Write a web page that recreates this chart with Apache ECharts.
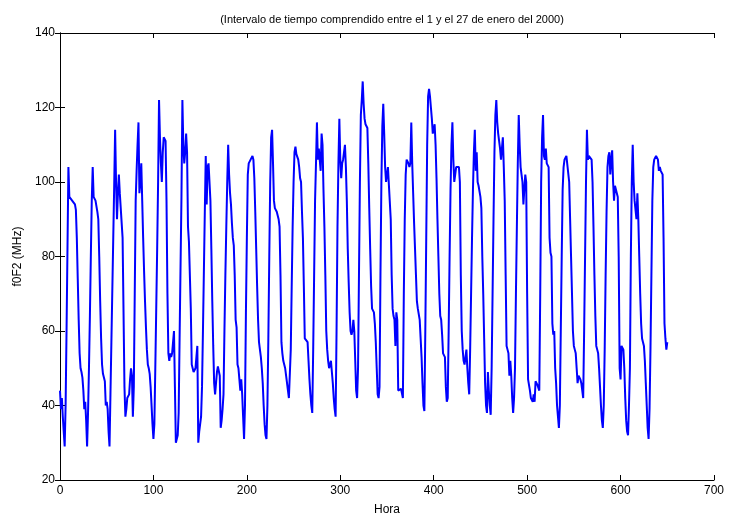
<!DOCTYPE html>
<html>
<head>
<meta charset="utf-8">
<script src="https://cdn.jsdelivr.net/npm/echarts@6/dist/echarts.min.js"></script>
<style>html,body{margin:0;padding:0;background:#fff}#c{width:730px;height:521px}</style>
</head>
<body>
<div id="c"></div>
<script>
var titleText = '(Intervalo de tiempo comprendido entre el 1 y el 27 de enero del 2000)';
var xName = 'Hora';
var yName = 'f0F2 (MHz)';
var xTicks = [0, 100, 200, 300, 400, 500, 600, 700];
var yTicks = [20, 40, 60, 80, 100, 120, 140];

// hourly f0F2 values (MHz), hour 0 onward
var f0F2 = [
44,39,42,37,33,29,40,60,82,104,96,95.5,95.5,95,95,94.5,94,92.5,85,74,63,54,50,49,
47.5,44,39,41,36,29,38,50,64,80,95,104,96,95.5,95,94.5,92,90,80,68,58,51,48.5,47.5,
46.5,40,41,39,33,29,43,57,71,85,99,114,100,90,97,102,97,97.5,97,85,65,45,37,39,
42,42.5,43,47,50,48,37,45,70,95,103,110,116,97,100,105,95,85,76,68,61,55,51,50,
48.5,45,40,35,31,35,50,66,82,100,122,112,105,100,108,112,112,111,95,70,54,52,54,53,
54,54,60,45,30,31,32,38,58,77,96,122,110,105,108,113,108,88,84,84,66,51,50,49,
49,50,53,56,30,33,35,37,45,60,76,92,107,94,104,105,105,95,82,68,56,46,43,46,
49,50.5,50.5,48,34,36,39,43,60,75,88,100,110,102,97,94,89,85,83,75,63,61,51,50,
47,44,47,43,37,31,40,65,85,102,105,105.5,106,106.5,107,106,101,92,82,72,63,57,55,53,
50,46,40,35,32,31,40,58,80,100,112,114,105,95,93,93,92,91,90,88,75,57,54,52,
51,50,48,46,44,42,42,55,72,88,100,108,109.5,107.5,107,106,104,101,100,92,85,72,58,58,
58,57,52,47,43,40,38,55,75,95,105,116,106,109,106,103,113,110,98,88,75,60,55,52,
50,51,52,49,46,42,39,37,60,88,105,117,106,101,105,106,108,110,104,95,82,73,65,60,
59,60,63,60,52,44,42,50,75,100,118,122,127,121,117,115.5,115,114.5,105,93,82,72,66,65.5,
65,62,57,50,43,42,45,75,100,115,121,113,104,100,102,104,104,104,90,75,66,64,63,56,
65,63,44,44,44.5,44.5,44,42,70,90,102,106,105.5,105,104,105,116,105,97,89,82,75,68,66,
65.5,63,58,53,46,40,38.5,60,85,110,123,125,123,120,117,113,114,115.5,110,101,90,80,70,64,
63,59,54,54,53,45,41,42,60,80,98,110,116,106,100,102,104,104.5,104.5,104,100,75,60,55,
52,51,53,55,50,46,43,55,70,85,98,108,114,103,108,100,99,99,96,93,80,70,58,46,
40,38,49,44,40,37.5,50,70,90,108,118,122,116,113,112.5,109,106,109,112,104,95,75,56,55,
54,48,52,48,42,38,42,50,70,88,105,118,110,104,102,100,94,94,102,100,70,47,46.5,44,
42,41.5,41,43,41,46.5,46,45.5,45,44,70,100,112,118,107,106,109,105,105,104,85,81,80,62,
59,60,50,46,40,37,34,40,60,80,98,104,106,106.5,107,107,107,100,90,80,70,60,56,55,
54,50,46,48,48,47,46,44,42,60,80,100,114,106,107,107,107,106,100,88,75,64,56,55,
54,50,45,40,36,34,40,55,75,92,104,107,108,102,106,108.5,100,95,99,98,97,96,80,50,
47,56,56,55,50,42,36,33,32,40,50,80,100,110,100,95,94.5,90,97,90,80,70,62,58,
57,56,52,46,40,34,31,39,55,75,95,104,106,106.5,107,107,106,103,104,103,103,102,85,62,
58,55,57
];

var font = "'Liberation Sans', Arial, Helvetica, sans-serif";
var chart = echarts.init(document.getElementById('c'), null, {renderer: 'canvas'});
var lineStyle = {color: '#000', width: 1};
chart.setOption({
  animation: false,
  backgroundColor: '#fff',
  textStyle: {fontFamily: font},
  title: {
    text: titleText,
    left: 387, textAlign: 'center', top: 9,
    textStyle: {fontFamily: font, fontSize: 11, fontWeight: 'normal', color: '#000'}
  },
  grid: {left: 60, right: 16, top: 33, bottom: 37, show: false},
  xAxis: [{
    type: 'value', min: xTicks[0], max: xTicks[xTicks.length - 1], interval: 100,
    name: xName, nameLocation: 'middle', nameGap: 24,
    nameTextStyle: {fontFamily: font, fontSize: 12, color: '#000'},
    axisLine: {show: true, lineStyle: lineStyle},
    axisTick: {show: true, inside: true, length: 5, lineStyle: lineStyle},
    axisLabel: {fontFamily: font, fontSize: 12, color: '#000', margin: 5},
    splitLine: {show: false}
  }, {
    type: 'value', position: 'top', min: xTicks[0], max: xTicks[xTicks.length - 1], interval: 100,
    axisLine: {show: true, lineStyle: lineStyle},
    axisTick: {show: true, inside: true, length: 5, lineStyle: lineStyle},
    axisLabel: {show: false}, splitLine: {show: false}
  }],
  yAxis: [{
    type: 'value', min: yTicks[0], max: yTicks[yTicks.length - 1], interval: 20,
    name: yName, nameLocation: 'middle', nameGap: 36, nameRotate: 90,
    nameTextStyle: {fontFamily: font, fontSize: 12, color: '#000'},
    axisLine: {show: true, lineStyle: lineStyle},
    axisTick: {show: true, inside: true, length: 5, lineStyle: lineStyle},
    axisLabel: {fontFamily: font, fontSize: 12, color: '#000', margin: 5},
    splitLine: {show: false}
  }, {
    type: 'value', position: 'right', min: yTicks[0], max: yTicks[yTicks.length - 1], interval: 20,
    axisLine: {show: true, lineStyle: lineStyle},
    axisTick: {show: true, inside: true, length: 5, lineStyle: lineStyle},
    axisLabel: {show: false}, splitLine: {show: false}
  }],
  series: [{
    type: 'line',
    data: f0F2.map(function (v, i) { return [i, v]; }),
    showSymbol: false, symbol: 'none',
    lineStyle: {color: '#0000ff', width: 2},
    itemStyle: {color: '#0000ff'}
  }]
});
</script>
</body>
</html>
